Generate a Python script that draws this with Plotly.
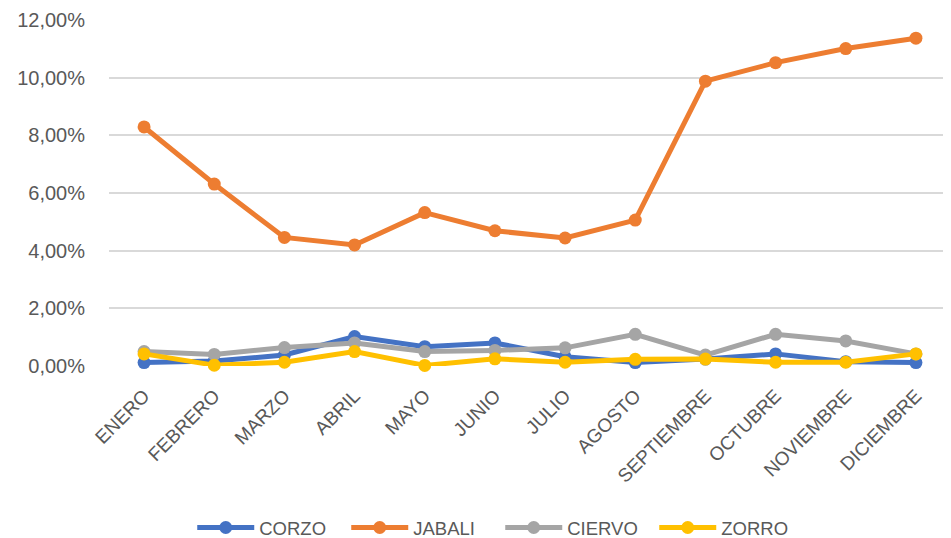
import plotly.graph_objects as go

months = ["ENERO", "FEBRERO", "MARZO", "ABRIL", "MAYO", "JUNIO", "JULIO",
          "AGOSTO", "SEPTIEMBRE", "OCTUBRE", "NOVIEMBRE", "DICIEMBRE"]

corzo = [0.12, 0.17, 0.38, 1.02, 0.67, 0.80, 0.32, 0.12, 0.24, 0.42, 0.15, 0.12]
jabali = [8.29, 6.31, 4.46, 4.20, 5.32, 4.69, 4.44, 5.06, 9.88, 10.52, 11.01, 11.37]
ciervo = [0.50, 0.40, 0.64, 0.80, 0.50, 0.54, 0.63, 1.10, 0.38, 1.10, 0.87, 0.42]
zorro = [0.42, 0.03, 0.13, 0.50, 0.02, 0.25, 0.13, 0.23, 0.24, 0.13, 0.13, 0.42]

y_ticks = [0, 2, 4, 6, 8, 10, 12]
y_ticktext = ["0,00%", "2,00%", "4,00%", "6,00%", "8,00%", "10,00%", "12,00%"]

series = [("CORZO", corzo, "#4472C4"),
          ("JABALI", jabali, "#ED7D31"),
          ("CIERVO", ciervo, "#A5A5A5"),
          ("ZORRO", zorro, "#FFC000")]

FONT = "Liberation Sans, Arial, sans-serif"

fig = go.Figure()
for name, vals, color in series:
    fig.add_trace(go.Scatter(
        x=months, y=vals, name=name, mode="lines+markers",
        line=dict(color=color, width=5),
        marker=dict(color=color, size=13),
        cliponaxis=False,
    ))

# the page body adds an 8px offset, so the figure is 8px smaller on each axis
fig.update_layout(
    width=943, height=530,
    margin=dict(l=101, r=0, t=12, b=172, autoexpand=False),
    paper_bgcolor="white", plot_bgcolor="white",
    font=dict(family=FONT, size=20, color="#595959"),
    showlegend=True,
    legend=dict(orientation="h", xref="container", yref="container",
                x=0.522, xanchor="center", y=0.0189, yanchor="middle",
                font=dict(size=18.5, color="#595959"),
                itemwidth=57, entrywidth=82, tracegroupgap=0),
    xaxis=dict(type="category", range=[-0.5, 11.5], showgrid=False,
               showline=False, zeroline=False, tickangle=-45,
               tickfont=dict(size=19, color="#595959"),
               ticks="", ticklabelstandoff=14,
               automargin=False),
    yaxis=dict(range=[0, 12], tickvals=y_ticks, ticktext=y_ticktext,
               showgrid=True, gridcolor="#D9D9D9", gridwidth=1.5,
               zeroline=False, showline=False, ticks="",
               tickfont=dict(size=20, color="#595959"),
               ticklabelstandoff=23, automargin=False),
)

fig.write_html("out.html")
